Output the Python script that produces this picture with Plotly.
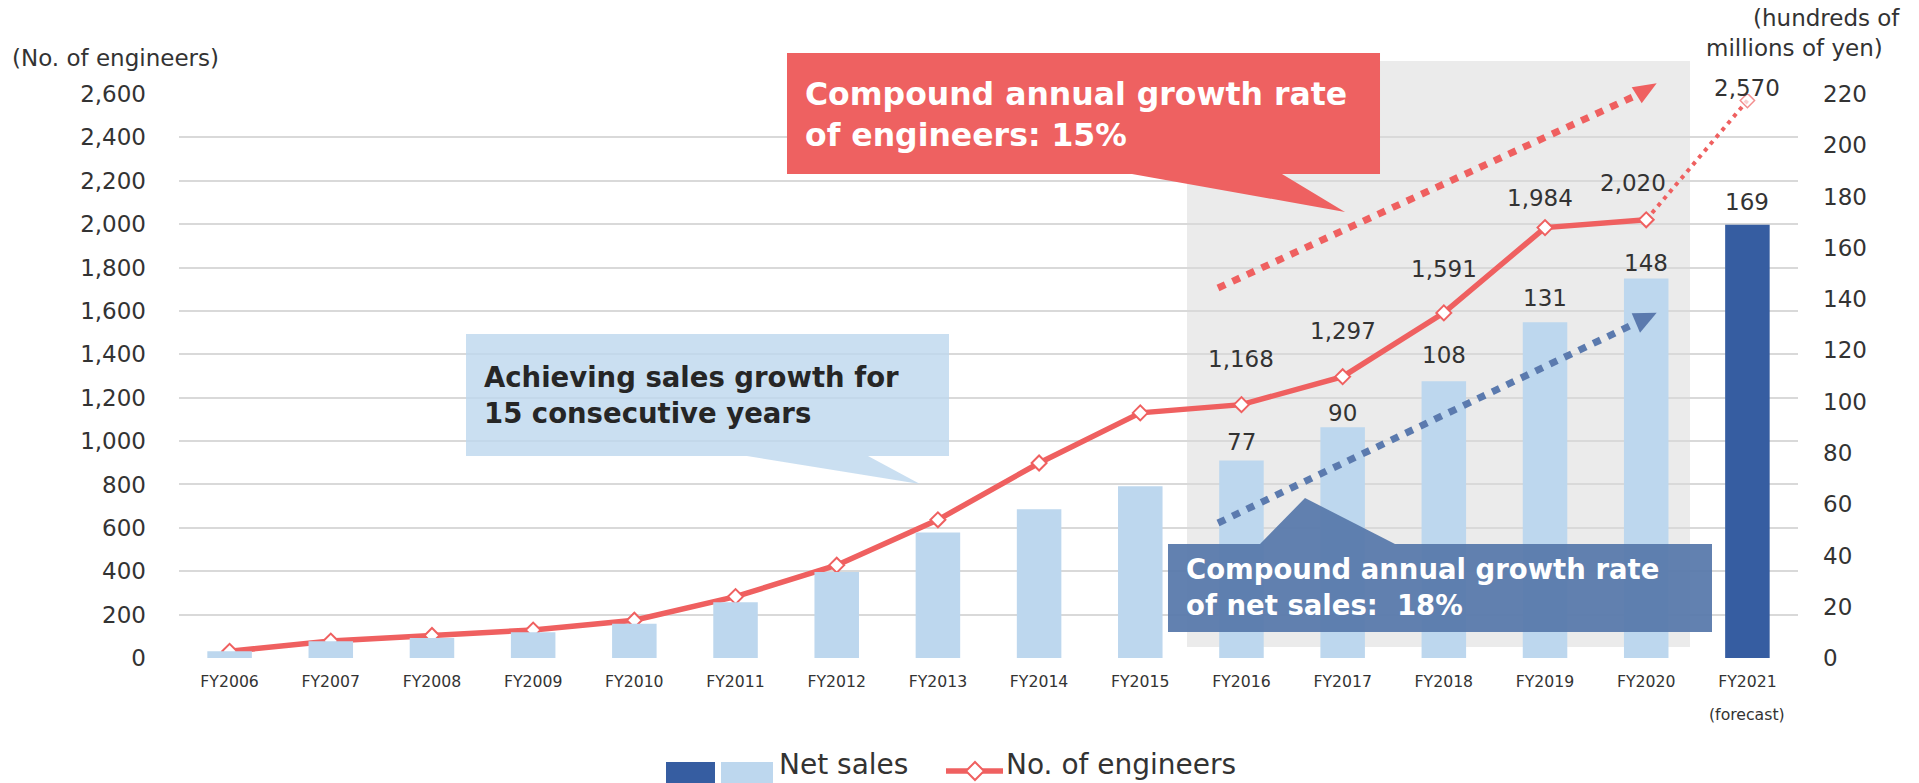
import plotly.graph_objects as go

# ---------------- data ----------------
categories = ["FY2006", "FY2007", "FY2008", "FY2009", "FY2010", "FY2011", "FY2012", "FY2013",
              "FY2014", "FY2015", "FY2016", "FY2017", "FY2018", "FY2019", "FY2020", "FY2021"]
net_sales = [2.6, 6.5, 7.8, 10, 13.4, 21.7, 33.5, 49, 58, 67, 77, 90, 108, 131, 148, 169]
engineers = [31, 78, 104, 129, 174, 283, 428, 637, 899, 1130, 1168, 1297, 1591, 1984, 2020, 2570]
engineer_ticks = [0, 200, 400, 600, 800, 1000, 1200, 1400, 1600, 1800, 2000, 2200, 2400, 2600]
sales_ticks = [0, 20, 40, 60, 80, 100, 120, 140, 160, 180, 200, 220]
first_labelled = 10          # data labels shown from FY2016 on
n_actual = 15                # FY2021 is a forecast

# ---------------- styling ----------------
FONT = "DejaVu Sans"
TXT = "#333333"
RED = "#EF6060"
LIGHT = "#BDD7EE"
DARK = "#365DA1"
GRID = "#D9D9D9"

# label offsets (px) relative to the point / bar top
eng_shift = [(0, 46), (0, 46), (0, 44), (-5, 30), (-13, 37), (0, 13)]
sales_shift = [19, 14, 26, 24, 16, 23]

# plot frame in pixels, used for the decorations
L, R, T, B = 179, 1798, 94, 658


def px(x):
    return (x - L) / (R - L)


def py(y):
    return (B - y) / (B - T)


def path(points):
    return "M" + " L".join(f"{px(x):.5f},{py(y):.5f}" for x, y in points) + " Z"


fig = go.Figure()

fig.add_trace(go.Bar(
    x=categories, y=net_sales, yaxis="y2", width=0.44,
    marker=dict(color=[LIGHT] * n_actual + [DARK], line=dict(width=0)),
    name="Net sales", hoverinfo="x+y",
))

fig.add_trace(go.Scatter(
    x=categories[n_actual - 1:], y=engineers[n_actual - 1:],
    mode="lines+markers",
    line=dict(color=RED, width=4, dash="4px,5px"),
    marker=dict(symbol="diamond", size=[0, 11], color="white",
                line=dict(color=RED, width=1.5)),
    name="No. of engineers (forecast)",
))

fig.add_trace(go.Scatter(
    x=categories[:n_actual], y=engineers[:n_actual],
    mode="lines+markers",
    line=dict(color=RED, width=5.5),
    marker=dict(symbol="diamond", size=11.5, color="white",
                line=dict(color=RED, width=2)),
    name="No. of engineers",
))

# ---------------- decorations ----------------
shapes = [
    # shaded recent period
    dict(type="rect", xref="paper", yref="paper", layer="below",
         x0=px(1187), x1=px(1690), y0=py(647), y1=py(61),
         fillcolor="#EBEBEB", line=dict(width=0)),
    # red dotted growth arrow
    dict(type="line", xref="paper", yref="paper", layer="above",
         x0=px(1218), y0=py(288), x1=px(1637), y1=py(95),
         line=dict(color=RED, width=7, dash="8px,8px")),
    dict(type="path", xref="paper", yref="paper", layer="above",
         path=path([(1631.7, 87.3), (1656.7, 83.3), (1641.7, 103.3)]),
         fillcolor=RED, line=dict(width=0)),
    # blue dotted growth arrow
    dict(type="line", xref="paper", yref="paper", layer="above",
         x0=px(1218), y0=py(523), x1=px(1636), y1=py(323),
         line=dict(color="#5B7AAE", width=7, dash="8px,8px")),
    dict(type="path", xref="paper", yref="paper", layer="above",
         path=path([(1631.7, 313.3), (1656.7, 312.7), (1640, 332.7)]),
         fillcolor="#5B7AAE", line=dict(width=0)),
    # callouts
    dict(type="path", xref="paper", yref="paper", layer="above",
         path=path([(787, 53), (1380, 53), (1380, 174), (1282, 174), (1345, 212),
                    (1132, 174), (787, 174)]),
         fillcolor="#EE6161", line=dict(width=0)),
    dict(type="path", xref="paper", yref="paper", layer="above",
         path=path([(466, 334), (949, 334), (949, 456), (868, 456), (920, 484),
                    (747, 456), (466, 456)]),
         fillcolor="rgba(189,215,238,0.8)", line=dict(width=0)),
    dict(type="path", xref="paper", yref="paper", layer="above",
         path=path([(1168, 544), (1260, 544), (1305, 498), (1395, 544), (1712, 544),
                    (1712, 632), (1168, 632)]),
         fillcolor="rgba(88,121,171,0.94)", line=dict(width=0)),
    # legend
    dict(type="rect", xref="paper", yref="paper", x0=px(666), x1=px(715), y0=py(795), y1=py(762),
         fillcolor=DARK, line=dict(width=0)),
    dict(type="rect", xref="paper", yref="paper", x0=px(721), x1=px(773), y0=py(795), y1=py(762),
         fillcolor=LIGHT, line=dict(width=0)),
    dict(type="line", xref="paper", yref="paper", x0=px(946), x1=px(1003), y0=py(771), y1=py(771),
         line=dict(color=RED, width=5.5)),
    dict(type="path", xref="paper", yref="paper",
         path=path([(966, 771), (975, 762), (984, 771), (975, 780)]),
         fillcolor="white", line=dict(color=RED, width=2)),
]

annotations = []


def note(text, x, y, size, color=TXT, xanchor="left", bold=False, xref="paper"):
    annotations.append(dict(
        text=f"<b>{text}</b>" if bold else text,
        x=x, y=y, xref=xref, yref="paper", xanchor=xanchor, yanchor="middle",
        align="left", showarrow=False, font=dict(family=FONT, size=size, color=color)))


note("(No. of engineers)", px(10), py(58), 23)
note("(hundreds of", px(1902), py(18), 23, xanchor="right")
note("millions of yen)", px(1885), py(48), 23, xanchor="right")
note("(forecast)", categories[-1], py(714), 15.7, xanchor="center", xref="x")
note("Compound annual growth rate<br>of engineers: 15%", px(803), py(114), 31.5,
     color="white", bold=True)
note("Achieving sales growth for<br>15 consecutive years", px(482), py(395), 27.5,
     color="#262626", bold=True)
note("Compound annual growth rate<br>of net sales:\u00a0 18%", px(1184), py(587), 27.5,
     color="white", bold=True)
note("Net sales", px(777), py(764), 28)
note("No. of engineers", px(1004), py(764), 28)

# data labels
for k, i in enumerate(range(first_labelled, len(categories))):
    dx, dy = eng_shift[k]
    annotations.append(dict(
        x=categories[i], y=engineers[i], xref="x", yref="y", text=f"{engineers[i]:,}",
        showarrow=False, xshift=dx, yshift=dy, yanchor="middle",
        font=dict(family=FONT, size=23, color=TXT)))
    annotations.append(dict(
        x=categories[i], y=net_sales[i], xref="x", yref="y2", text=f"{net_sales[i]:g}",
        showarrow=False, yshift=sales_shift[k], yanchor="middle",
        font=dict(family=FONT, size=23, color=TXT)))

fig.update_layout(
    width=1919, height=783,
    margin=dict(l=L, r=1919 - R, t=T, b=783 - B),
    paper_bgcolor="white", plot_bgcolor="rgba(0,0,0,0)",
    showlegend=False,
    font=dict(family=FONT, color=TXT),
    xaxis=dict(type="category", range=[-0.5, len(categories) - 0.5],
               showgrid=False, showline=False, zeroline=False,
               tickfont=dict(size=15.7, color=TXT), ticklabelstandoff=12),
    yaxis=dict(range=[0, 2600], tickvals=engineer_ticks, tickformat=",",
               showgrid=True, gridcolor=GRID, gridwidth=1.5, zeroline=False,
               tickfont=dict(size=23, color=TXT), ticklabelstandoff=32),
    yaxis2=dict(range=[0, 220], tickvals=sales_ticks, overlaying="y", side="right",
                showgrid=False, zeroline=False,
                tickfont=dict(size=23, color=TXT), ticklabelstandoff=24),
    shapes=shapes,
    annotations=annotations,
)

fig.write_html("out.html", config={"displayModeBar": False},
               post_script="document.body.style.margin='0px';document.body.style.overflow='hidden';")
